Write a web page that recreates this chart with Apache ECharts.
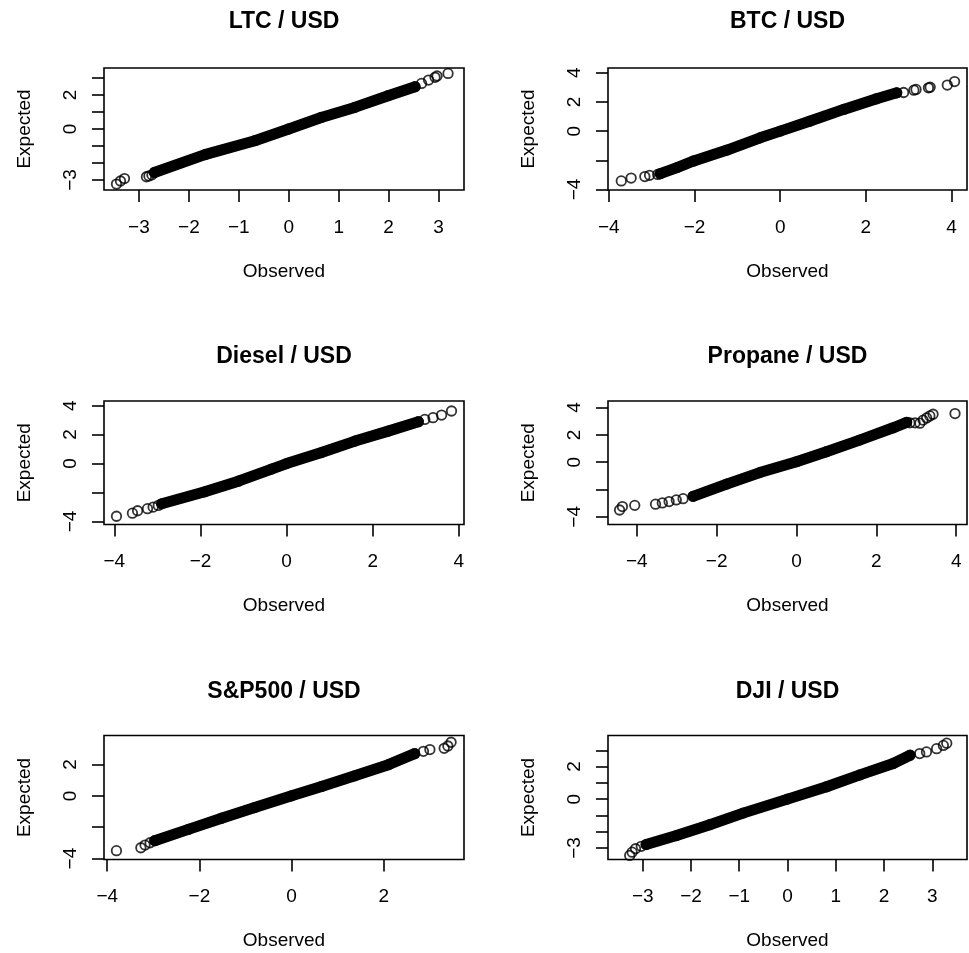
<!DOCTYPE html>
<html><head><meta charset="utf-8">
<script src="https://cdn.jsdelivr.net/npm/echarts@6/dist/echarts.min.js"></script>
<style>html,body{margin:0;padding:0;background:#fff}#c{width:969px;height:953px}</style>
</head><body><div id="c"></div>
<script>
const titles = ['LTC / USD','BTC / USD','Diesel / USD','Propane / USD','S&P500 / USD','DJI / USD'];
const xName = 'Observed';
const yName = 'Expected';

// LTC / USD
const ltcTailObs = [-3.45,-3.37,-3.29,-2.85,-2.80,-2.74, 2.66,2.80,2.93,2.97,3.19];
const ltcTailExp = [-3.24,-3.06,-2.92,-2.81,-2.76,-2.70, 2.68,2.88,3.04,3.12,3.27];
const ltcBodyObs = [-2.69,-1.68,-0.68,0.00,0.65,1.32,1.99,2.53];
const ltcBodyExp = [-2.56,-1.51,-0.69,0.00,0.68,1.27,1.96,2.49];
const ltcXRange = [-3.70, 3.51], ltcYRange = [-3.59, 3.59];
const ltcXTicks = [-3,-2,-1,0,1,2,3], ltcYTicks = [-3,-2,-1,0,1,2,3], ltcYLabels = [-3,0,2];

// BTC / USD
const btcTailObs = [-3.71,-3.48,-3.16,-3.05,-2.86, 2.88,3.12,3.17,3.46,3.50,3.90,4.07];
const btcTailExp = [-3.42,-3.22,-3.12,-3.03,-2.97, 2.65,2.81,2.86,2.97,3.01,3.16,3.40];
const btcBodyObs = [-2.80,-2.41,-2.02,-1.24,-0.47,0.00,0.70,1.48,2.25,2.72];
const btcBodyExp = [-2.92,-2.50,-2.05,-1.30,-0.46,0.00,0.69,1.49,2.22,2.63];
const btcXRange = [-4.02, 4.36], btcYRange = [-4.04, 4.33];
const btcXTicks = [-4,-2,0,2,4], btcYTicks = [-4,-2,0,2,4], btcYLabels = [-4,0,2,4];

// Diesel / USD
const dslTailObs = [-3.95,-3.58,-3.46,-3.23,-3.10,-2.98, 3.21,3.40,3.60,3.83];
const dslTailExp = [-3.64,-3.43,-3.26,-3.12,-3.01,-2.89, 3.05,3.17,3.35,3.63];
const dslBodyObs = [-2.90,-1.90,-1.12,-0.35,0.00,0.81,1.59,2.36,3.06];
const dslBodyExp = [-2.78,-1.95,-1.22,-0.38,0.00,0.76,1.55,2.24,2.89];
const dslXRange = [-4.24, 4.12], dslYRange = [-4.21, 4.32];
const dslXTicks = [-4,-2,0,2,4], dslYTicks = [-4,-2,0,2,4], dslYLabels = [-4,0,2,4];

// Propane / USD
const prpTailObs = [-4.43,-4.36,-4.05,-3.53,-3.36,-3.19,-3.01,-2.84, 2.84,2.97,3.09,3.17,3.26,3.34,3.42,3.97];
const prpTailExp = [-3.50,-3.25,-3.16,-3.07,-2.98,-2.88,-2.76,-2.67, 2.88,2.88,2.86,3.08,3.24,3.39,3.51,3.56];
const prpBodyObs = [-2.59,-1.75,-0.92,0.00,0.75,1.58,2.42,2.76];
const prpBodyExp = [-2.50,-1.60,-0.76,0.04,0.77,1.62,2.52,2.92];
const prpXRange = [-4.72, 4.27], prpYRange = [-4.56, 4.48];
const prpXTicks = [-4,-2,0,2,4], prpYTicks = [-4,-2,0,2,4], prpYLabels = [-4,0,2,4];

// S&P500 / USD
const spxTailObs = [-3.80,-3.27,-3.18,-3.07, 2.86,3.00,3.31,3.39,3.46];
const spxTailExp = [-3.50,-3.31,-3.14,-2.99, 2.84,2.95,3.03,3.18,3.42];
const spxBodyObs = [-2.97,-2.24,-1.52,-0.80,0.00,0.65,1.37,2.10,2.67];
const spxBodyExp = [-2.86,-2.14,-1.43,-0.75,0.00,0.60,1.28,1.99,2.69];
const spxXRange = [-4.07, 3.74], spxYRange = [-4.06, 3.85];
const spxXTicks = [-4,-2,0,2], spxYTicks = [-4,-2,0,2], spxYLabels = [-4,0,2];

// DJI / USD
const djiTailObs = [-3.27,-3.22,-3.15,-3.03, 2.74,2.88,3.09,3.23,3.30];
const djiTailExp = [-3.46,-3.26,-3.05,-2.90, 2.80,2.90,3.10,3.30,3.44];
const djiBodyObs = [-2.93,-2.30,-1.61,-0.92,0.00,0.81,1.50,2.19,2.54];
const djiBodyExp = [-2.79,-2.24,-1.57,-0.86,0.00,0.76,1.49,2.19,2.70];
const djiXRange = [-3.72, 3.72], djiYRange = [-3.71, 3.91];
const djiXTicks = [-3,-2,-1,0,1,2,3], djiYTicks = [-3,-2,-1,0,1,2,3], djiYLabels = [-3,0,2];

const panels = [
  {tailObs:ltcTailObs, tailExp:ltcTailExp, bodyObs:ltcBodyObs, bodyExp:ltcBodyExp, xr:ltcXRange, yr:ltcYRange, xt:ltcXTicks, yt:ltcYTicks, yl:ltcYLabels},
  {tailObs:btcTailObs, tailExp:btcTailExp, bodyObs:btcBodyObs, bodyExp:btcBodyExp, xr:btcXRange, yr:btcYRange, xt:btcXTicks, yt:btcYTicks, yl:btcYLabels},
  {tailObs:dslTailObs, tailExp:dslTailExp, bodyObs:dslBodyObs, bodyExp:dslBodyExp, xr:dslXRange, yr:dslYRange, xt:dslXTicks, yt:dslYTicks, yl:dslYLabels},
  {tailObs:prpTailObs, tailExp:prpTailExp, bodyObs:prpBodyObs, bodyExp:prpBodyExp, xr:prpXRange, yr:prpYRange, xt:prpXTicks, yt:prpYTicks, yl:prpYLabels},
  {tailObs:spxTailObs, tailExp:spxTailExp, bodyObs:spxBodyObs, bodyExp:spxBodyExp, xr:spxXRange, yr:spxYRange, xt:spxXTicks, yt:spxYTicks, yl:spxYLabels},
  {tailObs:djiTailObs, tailExp:djiTailExp, bodyObs:djiBodyObs, bodyExp:djiBodyExp, xr:djiXRange, yr:djiYRange, xt:djiXTicks, yt:djiYTicks, yl:djiYLabels}
];

// layout (pixels)
const colLeft = [104, 608];
const colWidth = [360, 359];
const rowTop = [68, 401, 735.5];
const rowHeight = [122, 123.5, 124];
const titleY = [22, 356.5, 692];

const FONT = '"Liberation Sans", Arial, Helvetica, sans-serif';
const fmt = v => String(v).replace('-', '\u2212');
const zip = (a, b) => a.map((v, i) => [v, b[i]]);

const grids = [], xAxes = [], yAxes = [], series = [], titleOpts = [];
panels.forEach((p, i) => {
  const c = i % 2, r = Math.floor(i / 2);
  grids.push({left: colLeft[c], top: rowTop[r], width: colWidth[c], height: rowHeight[r],
    show: true, borderColor: '#000', borderWidth: 1.6, backgroundColor: 'transparent', containLabel: false});
  titleOpts.push({text: titles[i], left: colLeft[c] + colWidth[c] / 2, top: titleY[r], padding: 0,
    textAlign: 'center', textVerticalAlign: 'middle',
    textStyle: {fontFamily: FONT, fontSize: 23, fontWeight: 'bold', color: '#000'}});
  xAxes.push({type: 'value', gridIndex: i, min: p.xr[0], max: p.xr[1], position: 'bottom',
    axisLine: {show: false, onZero: false}, splitLine: {show: false},
    axisTick: {show: true, inside: false, length: 12, customValues: p.xt, lineStyle: {color: '#000', width: 1.6}},
    axisLabel: {show: true, customValues: p.xt, margin: 28, fontSize: 19, color: '#000', fontFamily: FONT, formatter: fmt},
    name: xName, nameLocation: 'middle', nameGap: 72,
    nameTextStyle: {fontSize: 19, color: '#000', fontFamily: FONT}});
  yAxes.push({type: 'value', gridIndex: i, min: p.yr[0], max: p.yr[1], position: 'left',
    axisLine: {show: false, onZero: false}, splitLine: {show: false},
    axisTick: {show: true, inside: false, length: 12, customValues: p.yt, lineStyle: {color: '#000', width: 1.6}},
    axisLabel: {show: true, customValues: p.yl, rotate: 90, margin: 24, fontSize: 19, color: '#000', fontFamily: FONT, formatter: fmt},
    name: yName, nameLocation: 'middle', nameGap: 70,
    nameTextStyle: {fontSize: 19, color: '#000', fontFamily: FONT}});
  series.push({type: 'line', xAxisIndex: i, yAxisIndex: i, data: zip(p.bodyObs, p.bodyExp),
    symbol: 'none', silent: true, lineStyle: {color: '#000', width: 11, cap: 'round', join: 'round'}});
  series.push({type: 'scatter', xAxisIndex: i, yAxisIndex: i,
    data: zip(p.tailObs.concat(p.bodyObs), p.tailExp.concat(p.bodyExp)),
    symbol: 'circle', symbolSize: 9.5, silent: true,
    itemStyle: {color: 'rgba(0,0,0,0)', borderColor: '#000', borderWidth: 1.8}});
});

const chart = echarts.init(document.getElementById('c'), null, {renderer: 'canvas'});
chart.setOption({
  animation: false,
  backgroundColor: '#fff',
  title: titleOpts,
  grid: grids,
  xAxis: xAxes,
  yAxis: yAxes,
  series: series
});
</script></body></html>
